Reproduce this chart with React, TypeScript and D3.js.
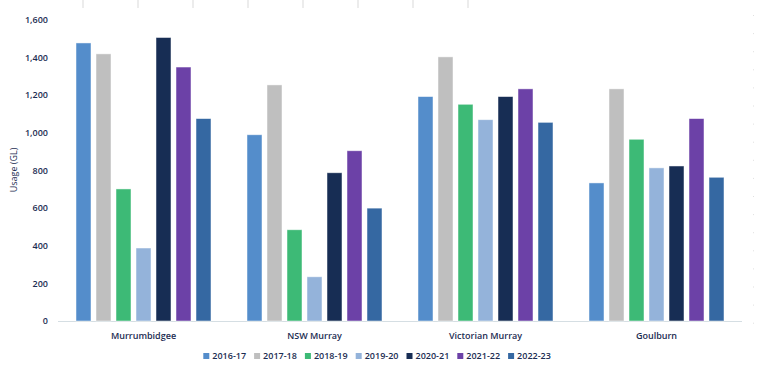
import React from "react";
import * as d3 from "d3";

const categories = ["Murrumbidgee", "NSW Murray", "Victorian Murray", "Goulburn"];
const seriesNames = ["2016-17", "2017-18", "2018-19", "2019-20", "2020-21", "2021-22", "2022-23"];
const seriesColors = ["#548dcb", "#bfbfbf", "#3dba76", "#94b3da", "#172d54", "#6c41a7", "#3568a2"];
const s2016 = [1478, 990, 1193, 734];
const s2017 = [1420, 1255, 1404, 1234];
const s2018 = [702, 485, 1152, 966];
const s2019 = [388, 235, 1070, 814];
const s2020 = [1507, 788, 1193, 824];
const s2021 = [1350, 905, 1234, 1076];
const s2022 = [1076, 600, 1056, 764];
const seriesValues = [s2016, s2017, s2018, s2019, s2020, s2021, s2022];
const yTicks = [0, 200, 400, 600, 800, 1000, 1200, 1400, 1600];
const topTickXs = [83, 138, 193, 248, 303, 358, 413, 468];

const W = 778, H = 378;
const textColor = "#1c2d52";
const font = "'Open Sans', sans-serif";

export default function App() {
  const x0 = d3.scaleBand<string>().domain(categories).range([58, 742]).paddingInner(0).paddingOuter(0);
  const x1 = d3.scaleBand<string>().domain(seriesNames).range([15.5, 171 - 15.5]).paddingInner(0.25).paddingOuter(0.125);
  const y = d3.scaleLinear().domain([0, 1600]).range([321, 20]);
  const fmt = d3.format(",");
  const dots = d3.range(15, 325, 18.1);

  return (
    <svg width={W} height={H} style={{ position: "absolute", left: 0, top: 0 }} fontFamily={font}>
      <rect width={W} height={H} fill="#fff" />
      {topTickXs.map((tx, i) => (
        <line key={"tt" + i} x1={tx} x2={tx} y1={0} y2={8} stroke="#d9d9d9" strokeWidth={1} />
      ))}
      {dots.map((dy, i) => (
        <rect key={"d" + i} x={753} y={dy} width={1} height={1} fill="#e0e0e0" />
      ))}
      <line x1={58} x2={742} y1={y(0) + 0.5} y2={y(0) + 0.5} stroke="#d5dee3" strokeWidth={1} />
      {yTicks.map((t) => (
        <text key={t} x={48} y={y(t)} dy="0.35em" textAnchor="end" fontSize={9} fontWeight={600} fill={textColor}>
          {fmt(t)}
        </text>
      ))}
      <text transform={`translate(17,${170}) rotate(-90)`} textAnchor="middle" fontSize={9} fill={textColor}>
        Usage (GL)
      </text>
      {categories.map((c, ci) => (
        <g key={c} transform={`translate(${x0(c)},0)`}>
          {seriesNames.map((s, si) => {
            const v = seriesValues[si][ci];
            return (
              <rect
                key={s}
                x={x1(s)}
                y={y(v)}
                width={x1.bandwidth()}
                height={y(0) - y(v)}
                fill={seriesColors[si]}
                stroke="#ffffff"
                strokeOpacity={0.6}
                strokeWidth={0.8}
              />
            );
          })}
          <text x={x0.bandwidth() / 2} y={339} textAnchor="middle" fontSize={9} fontWeight={600} fill={textColor}>
            {c}
          </text>
        </g>
      ))}
      {seriesNames.map((s, i) => {
        const lx = 203.3 + i * 50.8;
        return (
          <g key={s}>
            <rect x={lx} y={353} width={6} height={6} fill={seriesColors[i]} />
            <text x={lx + 9} y={356} dy="0.35em" fontSize={9} fontWeight={600} fill={textColor}>
              {s}
            </text>
          </g>
        );
      })}
    </svg>
  );
}
